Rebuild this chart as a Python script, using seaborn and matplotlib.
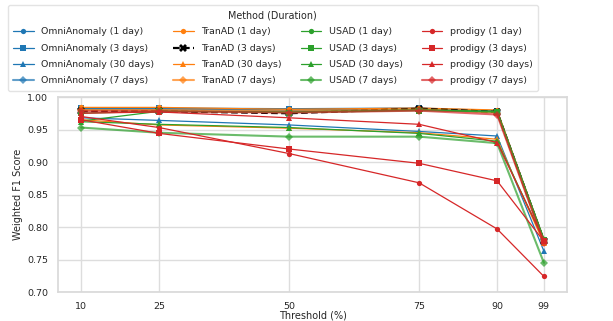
import matplotlib
matplotlib.use("Agg")
import matplotlib.pyplot as plt
import seaborn as sns
import pandas as pd

thresholds = [10, 25, 50, 75, 90, 99]
methods = ["OmniAnomaly", "TranAD", "USAD", "prodigy"]
durations = ["1 day", "3 days", "30 days", "7 days"]

omni_1 = [0.982, 0.982, 0.980, 0.982, 0.978, 0.778]
omni_3 = [0.983, 0.983, 0.982, 0.983, 0.979, 0.780]
omni_30 = [0.968, 0.964, 0.957, 0.947, 0.940, 0.763]
omni_7 = [0.981, 0.981, 0.979, 0.981, 0.977, 0.779]
tran_1 = [0.984, 0.984, 0.981, 0.983, 0.980, 0.781]
tran_3 = [0.978, 0.978, 0.975, 0.982, 0.977, 0.779]
tran_30 = [0.965, 0.957, 0.952, 0.945, 0.935, 0.775]
tran_7 = [0.980, 0.980, 0.978, 0.981, 0.976, 0.778]
usad_1 = [0.963, 0.978, 0.977, 0.980, 0.978, 0.782]
usad_3 = [0.975, 0.978, 0.976, 0.979, 0.977, 0.780]
usad_30 = [0.962, 0.958, 0.953, 0.944, 0.932, 0.780]
usad_7 = [0.953, 0.945, 0.939, 0.939, 0.929, 0.745]
prod_1 = [0.970, 0.953, 0.913, 0.868, 0.797, 0.724]
prod_3 = [0.965, 0.944, 0.920, 0.898, 0.871, 0.778]
prod_30 = [0.975, 0.977, 0.968, 0.958, 0.930, 0.780]
prod_7 = [0.978, 0.978, 0.976, 0.979, 0.973, 0.776]

series = {
    ("OmniAnomaly", "1 day"): omni_1, ("OmniAnomaly", "3 days"): omni_3,
    ("OmniAnomaly", "30 days"): omni_30, ("OmniAnomaly", "7 days"): omni_7,
    ("TranAD", "1 day"): tran_1, ("TranAD", "3 days"): tran_3,
    ("TranAD", "30 days"): tran_30, ("TranAD", "7 days"): tran_7,
    ("USAD", "1 day"): usad_1, ("USAD", "3 days"): usad_3,
    ("USAD", "30 days"): usad_30, ("USAD", "7 days"): usad_7,
    ("prodigy", "1 day"): prod_1, ("prodigy", "3 days"): prod_3,
    ("prodigy", "30 days"): prod_30, ("prodigy", "7 days"): prod_7,
}

sns.set_theme(style="whitegrid", font_scale=0.6)
plt.rcParams['font.family'] = ['DejaVu Sans']
plt.rcParams['axes.edgecolor'] = '#d9d9d9'
plt.rcParams['grid.color'] = '#dddddd'

colors = dict(zip(methods, sns.color_palette("tab10", 4)))
markers = {"1 day": "o", "3 days": "s", "30 days": "^", "7 days": "D"}

fig = plt.figure(figsize=(6.13, 3.21), dpi=100)
ax = fig.add_axes([58/613, 1-292/321, (567-58)/613, (292-97)/321])

for m in methods:
    for d in durations:
        vals = series[(m, d)]
        df = pd.DataFrame({"Threshold (%)": thresholds, "Weighted F1 Score": vals})
        kw = dict(color=colors[m], marker=markers[d], markersize=3.8,
                  linewidth=0.9, markeredgewidth=0)
        if d == "7 days":
            kw.update(alpha=0.7, linewidth=1.5, markersize=4.5)
        if m == "TranAD" and d == "3 days":
            kw.update(color="black", marker="X", linewidth=1.6, markersize=5.5,
                      linestyle=(0, (3, 1.5)))
        sns.lineplot(data=df, x="Threshold (%)", y="Weighted F1 Score", ax=ax,
                     label=f"{m} ({d})", **kw)

ax.set_xticks(thresholds)
ax.set_ylim(0.70, 1.00)
yt = [0.70, 0.75, 0.80, 0.85, 0.90, 0.95, 1.00]
ax.set_yticks(yt)
ax.set_yticklabels([f"{v:.2f}" for v in yt])
ax.tick_params(pad=1, labelsize=6.8)
ax.set_xlabel("Threshold (%)", fontsize=7, labelpad=0)
ax.set_ylabel("Weighted F1 Score", fontsize=7, labelpad=3)

leg = ax.legend(title="Method (Duration)", ncol=4, loc="upper left",
                bbox_to_anchor=(8/613, 1-5/321), bbox_transform=fig.transFigure,
                frameon=True, borderaxespad=0, fontsize=6.75, title_fontsize=6.9,
                labelspacing=0.78, handlelength=2.2, columnspacing=2.0,
                borderpad=0.55)
leg.get_frame().set_edgecolor('#dddddd')

fig.savefig("out.png", dpi=100)
